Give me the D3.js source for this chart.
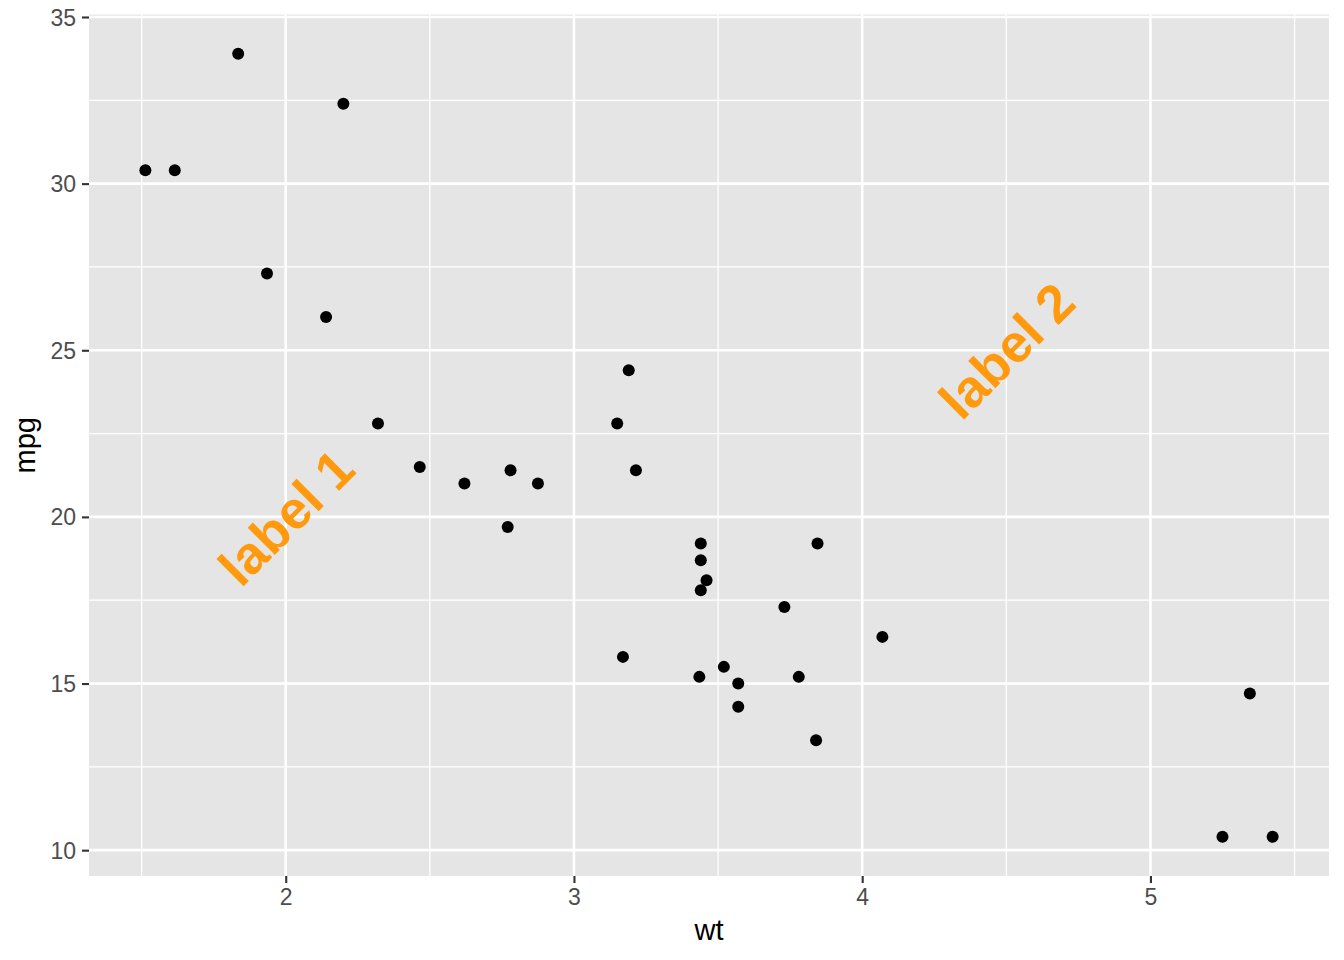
<!DOCTYPE html>
<html>
<head>
<meta charset="utf-8">
<script src="https://cdn.jsdelivr.net/npm/d3@7"></script>
<style>
  body { margin: 0; background: #fff; }
  svg text { font-family: "Liberation Sans", Arial, Helvetica, sans-serif; }
</style>
</head>
<body>
<div id="chart"></div>
<script>
// mtcars: weight vs miles per gallon
var wt = [2.620, 2.875, 2.320, 3.215, 3.440, 3.460, 3.570, 3.190, 3.150, 3.440,
          3.440, 4.070, 3.730, 3.780, 5.250, 5.424, 5.345, 2.200, 1.615, 1.835,
          2.465, 3.520, 3.435, 3.840, 3.845, 1.935, 2.140, 1.513, 3.170, 2.770,
          3.570, 2.780]
var mpg = [21.0, 21.0, 22.8, 21.4, 18.7, 18.1, 14.3, 24.4, 22.8, 19.2,
           17.8, 16.4, 17.3, 15.2, 10.4, 10.4, 14.7, 32.4, 30.4, 33.9,
           21.5, 15.5, 15.2, 13.3, 19.2, 27.3, 26.0, 30.4, 15.8, 19.7,
           15.0, 21.4]

var xTicks = [2, 3, 4, 5]
var xMinor = [1.5, 2.5, 3.5, 4.5, 5.5]
var yTicks = [10, 15, 20, 25, 30, 35]
var yMinor = [12.5, 17.5, 22.5, 27.5, 32.5]

var labelText = ['label 1', 'label 2']
var labelX = [2, 4.5]
var labelY = [20, 25]

var margin = {top: 14.5, right: 15, bottom: 84, left: 89},
  width = 1344 - margin.left - margin.right,
  height = 960 - margin.top - margin.bottom

var svg = d3.select('#chart')
  .append('svg')
    .attr('width', 1344)
    .attr('height', 960)
  .append('g')
    .attr('transform', 'translate(' + margin.left + ',' + margin.top + ')')

// ggplot style 5% expansion
var xr = d3.extent(wt), yr = d3.extent(mpg)
var xpad = (xr[1] - xr[0]) * 0.05, ypad = (yr[1] - yr[0]) * 0.05

var x_scale = d3.scaleLinear()
  .domain([xr[0] - xpad, xr[1] + xpad])
  .range([0, width])

var y_scale = d3.scaleLinear()
  .domain([yr[0] - ypad, yr[1] + ypad])
  .range([height, 0])

svg.append('rect')
  .attr('width', width)
  .attr('height', height)
  .attr('fill', '#E5E5E5')

// grid
var inX = function(v) { return v >= x_scale.domain()[0] && v <= x_scale.domain()[1] }
var inY = function(v) { return v >= y_scale.domain()[0] && v <= y_scale.domain()[1] }

svg.selectAll('.minor-x').data(xMinor.filter(inX)).enter().append('line')
  .attr('x1', d => x_scale(d)).attr('x2', d => x_scale(d))
  .attr('y1', 0).attr('y2', height)
  .attr('stroke', '#fff').attr('stroke-width', 1.3)
svg.selectAll('.minor-y').data(yMinor.filter(inY)).enter().append('line')
  .attr('y1', d => y_scale(d)).attr('y2', d => y_scale(d))
  .attr('x1', 0).attr('x2', width)
  .attr('stroke', '#fff').attr('stroke-width', 1.3)
svg.selectAll('.major-x').data(xTicks).enter().append('line')
  .attr('x1', d => x_scale(d)).attr('x2', d => x_scale(d))
  .attr('y1', 0).attr('y2', height)
  .attr('stroke', '#fff').attr('stroke-width', 2.6)
svg.selectAll('.major-y').data(yTicks).enter().append('line')
  .attr('y1', d => y_scale(d)).attr('y2', d => y_scale(d))
  .attr('x1', 0).attr('x2', width)
  .attr('stroke', '#fff').attr('stroke-width', 2.6)

// axes
var x_axis = d3.axisBottom(x_scale).tickValues(xTicks).tickFormat(d3.format('d')).tickSize(7).tickPadding(5)
var y_axis = d3.axisLeft(y_scale).tickValues(yTicks).tickFormat(d3.format('d')).tickSize(7).tickPadding(6)

var gx = svg.append('g')
  .attr('class', 'axis x-axis')
  .attr('transform', 'translate(0,' + height + ')')
  .call(x_axis)
var gy = svg.append('g')
  .attr('class', 'axis y-axis')
  .call(y_axis)

svg.selectAll('.axis .domain').remove()
svg.selectAll('.axis .tick line').attr('stroke', '#333333').attr('stroke-width', 2.1)
svg.selectAll('.axis .tick text')
  .attr('fill', '#4D4D4D')
  .style('font-size', '23px')
gy.selectAll('.tick text').attr('dy', '0.35em')
gx.selectAll('.tick text').attr('dy', '0.76em')

// points
svg.selectAll('.pt')
  .data(wt)
  .enter()
  .append('circle')
  .attr('cx', d => x_scale(d))
  .attr('cy', (d, i) => y_scale(mpg[i]))
  .attr('r', 6)
  .attr('fill', '#000')

// annotations
svg.selectAll('.lab')
  .data(labelText)
  .enter()
  .append('text')
  .attr('transform', (d, i) => 'translate(' + x_scale(labelX[i]) + ',' + y_scale(labelY[i]) + ') rotate(-45)')
  .attr('text-anchor', 'middle')
  .attr('dy', '0.36em')
  .attr('fill', '#FF9A0E')
  .style('font-size', '53px')
  .style('font-weight', 'bold')
  .text(d => d)

// axis titles
svg.append('text')
  .attr('x', width / 2)
  .attr('y', height + 64)
  .attr('text-anchor', 'middle')
  .style('font-size', '29px')
  .attr('fill', '#000')
  .text('wt')

svg.append('text')
  .attr('transform', 'translate(' + (35 - margin.left) + ',' + height / 2 + ') rotate(-90)')
  .attr('text-anchor', 'middle')
  .style('font-size', '29px')
  .attr('fill', '#000')
  .text('mpg')
</script>
</body>
</html>
